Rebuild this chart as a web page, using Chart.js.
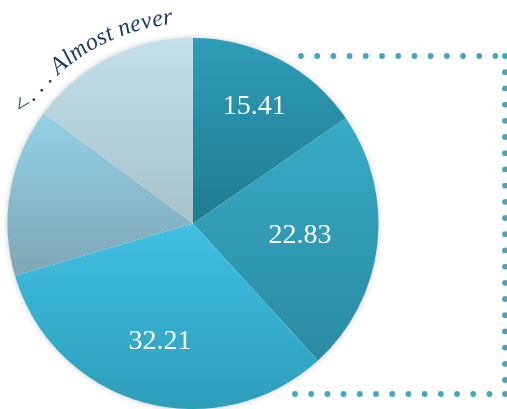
<!DOCTYPE html>
<html>
<head>
<meta charset="utf-8">
<script src="https://cdn.jsdelivr.net/npm/chart.js@4"></script>
<style>
  html, body { margin: 0; padding: 0; background: #fff; }
  #wrap { width: 507px; height: 409px; position: relative; overflow: hidden; }
</style>
</head>
<body>
<div id="wrap"><canvas id="pieChart" width="507" height="409"></canvas></div>
<script>
// slices, clockwise from 12 o'clock
const categories = ["Always", "Often", "Sometimes", "Rarely", "Almost never"];
const values = [15.41, 22.83, 32.21, 14.67, 14.88];
const showValue = [true, true, true, false, false];
const topColors = ["#2f9db8", "#38abc6", "#40c0e2", "#94d1e6", "#c2e1eb"];
const bottomColors = ["#1f7b90", "#2a8aa2", "#2d9dba", "#7ea6b6", "#a7c1ca"];
const labelRadius = [0.71, 0.58, 0.66, 0.6, 0.6];
const curvedText = "<. . . Almost never";

// geometry of the pie from the chart area
function pieGeom(chart) {
  const a = chart.chartArea;
  return {
    cx: (a.left + a.right) / 2,
    cy: (a.top + a.bottom) / 2,
    r: Math.min(a.right - a.left, a.bottom - a.top) / 2,
  };
}

function sliceAngles(i) {
  const total = values.reduce((s, v) => s + v, 0);
  let start = -Math.PI / 2;
  for (let k = 0; k < i; k++) start += values[k] / total * Math.PI * 2;
  return [start, start + values[i] / total * Math.PI * 2];
}

function sliceGradient(context) {
  const chart = context.chart;
  if (!chart.chartArea) return topColors[context.dataIndex];
  const i = context.dataIndex;
  const g = pieGeom(chart);
  const [s, e] = sliceAngles(i);
  const ys = [g.cy, g.cy + g.r * Math.sin(s), g.cy + g.r * Math.sin(e)];
  [Math.PI / 2, -Math.PI / 2, Math.PI * 1.5].forEach((t) => {
    if (t > s && t < e) ys.push(g.cy + g.r * Math.sin(t));
  });
  const grad = chart.ctx.createLinearGradient(0, Math.min(...ys), 0, Math.max(...ys));
  grad.addColorStop(0, topColors[i]);
  grad.addColorStop(1, bottomColors[i]);
  return grad;
}

// dotted frame on the right, soft edge shadow
const decorPlugin = {
  id: "decor",
  beforeDatasetsDraw(chart) {
    const ctx = chart.ctx;
    const g = pieGeom(chart);
    ctx.save();
    ctx.fillStyle = "#40a9bd";
    const dot = (x, y) => { ctx.beginPath(); ctx.arc(x, y, 2.9, 0, Math.PI * 2); ctx.fill(); };
    const top = 56, bottom = 394, right = 505, step = 16.2;
    for (let x = 301; x <= right - 6; x += step) dot(x, top);
    for (let y = top; y <= bottom; y += step) dot(right, y);
    for (let x = 295; x <= right - 6; x += step) dot(x, bottom);
    dot(right, bottom);
    ctx.shadowColor = "rgba(0,0,0,0.25)";
    ctx.shadowBlur = 6;
    ctx.fillStyle = "#fff";
    ctx.beginPath();
    ctx.arc(g.cx, g.cy, g.r - 0.5, 0, Math.PI * 2);
    ctx.fill();
    ctx.restore();
  },
  afterDatasetsDraw(chart) {
    const ctx = chart.ctx;
    const g = pieGeom(chart);
    const meta = chart.getDatasetMeta(0);
    ctx.save();
    // values inside slices
    ctx.fillStyle = "#ffffff";
    ctx.font = "28px 'Liberation Serif', serif";
    ctx.textAlign = "center";
    ctx.textBaseline = "middle";
    meta.data.forEach((arc, i) => {
      if (!showValue[i]) return;
      const mid = (arc.startAngle + arc.endAngle) / 2;
      const rr = g.r * labelRadius[i];
      ctx.fillText(values[i].toFixed(2), g.cx + rr * Math.cos(mid), g.cy + rr * Math.sin(mid));
    });
    // curved caption along the upper left rim
    ctx.fillStyle = "#1c3d66";
    ctx.font = "italic 24px 'Liberation Serif', serif";
    ctx.textAlign = "left";
    ctx.textBaseline = "alphabetic";
    const rad = g.r + 15;
    let ang = -Math.PI / 2 - 57.5 * Math.PI / 180;
    for (const ch of curvedText) {
      const w = ctx.measureText(ch).width * 1.02;
      ctx.save();
      ctx.translate(g.cx + rad * Math.cos(ang), g.cy + rad * Math.sin(ang));
      ctx.rotate(ang + Math.PI / 2);
      ctx.fillText(ch, 0, 0);
      ctx.restore();
      ang += w / rad;
    }
    ctx.restore();
  },
};

const ctx = document.getElementById("pieChart").getContext("2d");
const pieChart = new Chart(ctx, {
  type: "pie",
  data: {
    labels: categories,
    datasets: [
      {
        data: values,
        backgroundColor: sliceGradient,
        borderWidth: 0,
        hoverOffset: 0,
      },
    ],
  },
  options: {
    responsive: false,
    animation: false,
    devicePixelRatio: 1,
    layout: { padding: { left: 7, top: 38, right: 128, bottom: 0 } },
    plugins: {
      legend: { display: false },
      tooltip: { enabled: false },
    },
  },
  plugins: [decorPlugin],
});
</script>
</body>
</html>
